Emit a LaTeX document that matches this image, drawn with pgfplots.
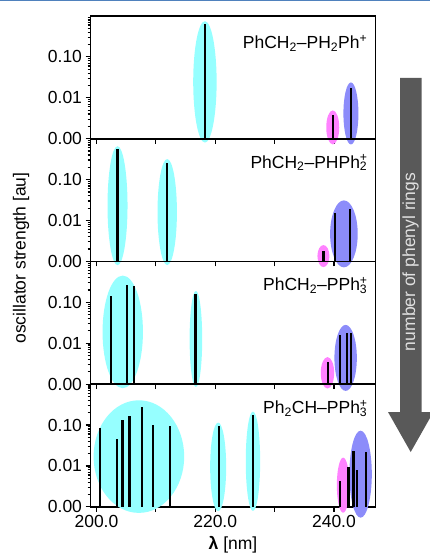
\documentclass[border=0pt]{standalone}
\usepackage{fontspec}
\setmainfont{Liberation Sans}
\usepackage{pgfplots}
\pgfplotsset{compat=1.18}
\usepackage{pgfplotstable}

\definecolor{ellC}{RGB}{150,255,255}
\definecolor{ellM}{RGB}{255,130,255}
\definecolor{ellB}{RGB}{140,140,250}
\definecolor{arrowgray}{RGB}{89,89,89}
\definecolor{topline}{RGB}{79,129,189}

\newcommand\F{\fontsize{17.5}{21}\selectfont}

% --- excitations: wavelength [nm], oscillator strength [au]
\pgfplotstableread{
x y
218.27 0.65
239.80 0.0037
242.84 0.0175
}\stemsA
\pgfplotstableread{
x y
203.55 0.56
211.87 0.26
238.24 0.0018
240.20 0.0153
242.73 0.0192
}\stemsB
\pgfplotstableread{
x y
202.49 0.145
205.19 0.26
206.36 0.25
216.69 0.157
238.97 0.0034
241.04 0.0158
242.17 0.018
242.84 0.018
}\stemsC
\pgfplotstableread{
x y
200.64 0.0845
203.50 0.0456
204.40 0.135
205.57 0.166
207.71 0.27
209.50 0.102
212.42 0.093
220.62 0.095
226.34 0.18
241.04 0.0042
242.44 0.0095
243.28 0.0238
243.86 0.0079
245.42 0.0216
}\stemsD

% shared settings of the four stacked panels
\pgfplotsset{
  width=285pt, height=122.7pt, scale only axis,
  xmin=199.0, xmax=247.0,
  ymin=0.001, ymax=1,
  xtick={200,210,220,230,240}, xticklabels={},
  ytick={0.001,0.01,0.1}, yticklabels={0.00,0.01,0.10},
  minor ytick={0.002,0.003,0.004,0.005,0.006,0.007,0.008,0.009,
               0.02,0.03,0.04,0.05,0.06,0.07,0.08,0.09,
               0.2,0.3,0.4,0.5,0.6,0.7,0.8,0.9},
  tick align=outside, xtick pos=bottom, ytick pos=left,
  major tick length=5pt, minor tick length=3pt,
  every tick/.style={black, line width=1.2pt},
  axis line style={line width=1.6pt},
  tick label style={font=\F},
  every axis label/.append style={font=\F},
}

% band group: centre (nm, au), half width, half height (pt), colour
\newcommand\band[5]{%
  \addplot[only marks, mark=*, mark size=1pt,
    mark options={fill=#5, draw opacity=0, xscale=#3, yscale=#4}]
    coordinates {(#1,#2)};}

\newcommand\stems[1]{%
  \addplot[ycomb, black, line width=2.3pt, mark=none] table[x=x, y=y] {#1};}

\newcommand\panellabel[2]{%
  \node[anchor=base east, font=\F, inner sep=0pt]
    at ([xshift=-8pt, yshift=-#1]rel axis cs:1,1) {#2};}

\begin{document}
\begin{tikzpicture}
\useasboundingbox (0pt,0pt) rectangle (430pt,-553pt);
\draw[topline, line width=1.5pt] (0pt,-0.5pt) -- (430pt,-0.5pt);

\begin{axis}[ymode=log, log origin y=infty, clip=false, clip marker paths=true,
    at={(90.5pt,-16pt)}, anchor=north west]
  \band{218.27}{0.0245}{11.7}{60.7}{ellC}
  \band{239.80}{0.00189}{6.5}{17}{ellM}
  \band{242.86}{0.00414}{7.5}{31}{ellB}
  \stems{\stemsA}
  \panellabel{33pt}{PhCH\textsubscript{2}–PH\textsubscript{2}Ph\textsuperscript{+}}
\end{axis}

\begin{axis}[ymode=log, log origin y=infty, clip=false, clip marker paths=true,
    at={(90.5pt,-138.7pt)}, anchor=north west]
  \band{203.55}{0.0230}{10}{59.5}{ellC}
  \band{211.92}{0.0161}{9.7}{53}{ellC}
  \band{238.23}{0.00135}{6}{11}{ellM}
  \band{241.68}{0.00471}{13.8}{33.5}{ellB}
  \stems{\stemsB}
  \panellabel{29.5pt}{PhCH\textsubscript{2}–PHPh\rlap{\textsuperscript{+}}\textsubscript{2}}
\end{axis}

\begin{axis}[ymode=log, log origin y=infty, clip=false, clip marker paths=true,
    at={(90.5pt,-261.4pt)}, anchor=north west]
  \band{204.43}{0.0189}{20.2}{56.3}{ellC}
  \band{216.75}{0.0127}{6.3}{48}{ellC}
  \band{238.91}{0.00189}{6.7}{15.7}{ellM}
  \band{241.97}{0.00437}{11.2}{33}{ellB}
  \stems{\stemsC}
  \panellabel{29.5pt}{PhCH\textsubscript{2}–PPh\rlap{\textsuperscript{+}}\textsubscript{3}}
\end{axis}

\begin{axis}[ymode=log, log origin y=infty, clip=false, clip marker paths=true,
    at={(90.5pt,-384.1pt)}, anchor=north west,
    xticklabels={200.0,,220.0,,240.0},
    xlabel={\textbf{λ} [nm]},
    xlabel style={yshift=-2pt}]
  \band{207.15}{0.0169}{45.3}{56.3}{ellC}
  \band{220.50}{0.00946}{8}{44.3}{ellC}
  \band{226.36}{0.0130}{7.2}{49.7}{ellC}
  \band{241.55}{0.00338}{6.3}{27.5}{ellM}
  \band{244.49}{0.00628}{11.2}{43.5}{ellB}
  \stems{\stemsD}
  \panellabel{29.5pt}{Ph\textsubscript{2}CH–PPh\rlap{\textsuperscript{+}}\textsubscript{3}}
\end{axis}

\node[rotate=90, font=\F] at (21pt,-258pt) {oscillator strength [au]};

% trend arrow
\fill[arrowgray] (400pt,-78pt) -- (421.5pt,-78pt) -- (421.5pt,-412pt)
  -- (433.4pt,-412pt) -- (410.7pt,-452pt) -- (388pt,-412pt)
  -- (400pt,-412pt) -- cycle;
\node[rotate=90, font=\F, text=white!88!black] at (410.7pt,-262pt)
  {number of phenyl rings};
\end{tikzpicture}
\end{document}
